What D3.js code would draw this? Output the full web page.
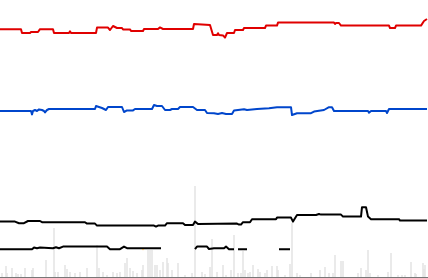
<!DOCTYPE html>
<html>
<head>
<meta charset="utf-8">
<script src="https://cdn.jsdelivr.net/npm/d3@7"></script>
<style>
  html, body { margin: 0; padding: 0; background: #fff; overflow: hidden; }
  #chart { width: 428px; height: 278px; }
</style>
</head>
<body>
<div id="chart"></div>
<script>
// [day, value] pairs; null breaks a line
const redSeries = [[0,124.4],[21,124.4],[22,122.5],[30,122.5],[31,123],[38,123],[40,124.4],[53,124.4],[54,122.5],[69,122.5],[70,123.3],[71,122.5],[96,122.5],[97,125.2],[108,125.2],[110,124],[113,126],[117,125],[122,125],[123,124.3],[130,124.3],[131,123.5],[143,123.5],[144,124.5],[158,124.5],[160,125.3],[163,124.5],[193,124.5],[194,127],[210,126.5],[213,121.5],[217,121.5],[218,122.4],[219,121.5],[223,121.3],[225,120.2],[227,122.5],[234,122.5],[235,124],[243,124],[244,125],[265,125],[266,126.2],[277,126.2],[278,127.7],[334,127.7],[335,127],[336,127.5],[339,127.5],[341,126.2],[389,126.2],[390,125],[395,125],[396,126.2],[421,126.2],[424,128.5],[427,129.5]];

const blueSeries = [[0,83.5],[31,83.5],[32,81.8],[33,83.5],[35,84],[37,83.5],[39,84.3],[42,84],[44,83.5],[45,82.8],[47,84],[49,84.5],[95,84.5],[96,86],[99,85.5],[102,85],[106,84],[108,85.5],[122,85.5],[124,83],[127,83.8],[133,83.8],[135,84.5],[152,84.5],[154,86.5],[157,86],[162,86],[165,84],[170,84],[172,84.5],[178,84.5],[180,85.5],[193,85.5],[197,84],[205,84],[207,82.5],[214,82.4],[218,82],[222,82.5],[226,82],[232,82],[234,83.7],[244,84.4],[247,84],[257,84.5],[269,84.9],[277,85.4],[291,85.4],[292,81.5],[297,82.4],[311,82.4],[314,83.2],[324,84],[329,85.4],[332,85.4],[334,83.5],[368,83.5],[369,82.7],[371,83.5],[386,83.5],[387,82.5],[389,84.5],[427,84.5]];

const blackSeries = [[0,28.2],[15,28.2],[19,27.4],[24,27.4],[28,28.5],[40,28.5],[42,27.9],[85,27.9],[87,27.2],[95,27.2],[97,26.2],[154,26.2],[156,25.7],[158,26.2],[165,26.2],[167,27.4],[183,27.4],[185,26.5],[193,26.5],[195,28.2],[198,27],[237,27.2],[239,26.7],[241,26.7],[243,27.9],[250,27.9],[252,29.4],[276,29.4],[277,30.2],[291,30.2],[293,28.2],[297,31.5],[316,31.5],[319,32],[321,31.7],[341,31.7],[343,30.7],[361,30.7],[362,35.4],[366,35.4],[368,30.7],[371,29.4],[399,29.4],[400,28.7],[427,28.7]];

const gapSeries = [[0,14.4],[32,14.4],[34,15.2],[37,14.9],[40,15.2],[53,14.9],[56,15.4],[59,14.9],[63,15.7],[107,15.7],[110,14.4],[120,14.4],[124,15.7],[127,14.9],[161,14.9],[162,null],
  [195,14.4],[197,15.7],[207,15.7],[209,14.5],[214,14.9],[224,14.9],[226,15.7],[229,14.4],[234,14.4],[235,null],
  [238,14.4],[247,14.4],[248,null],
  [279,14.4],[290,14.4]];

const markers = [[143,14.2]];

// volume bars [day, volume]
const volumes = [[2,40],[6,110],[7,40],[12,90],[16,40],[18,30],[21,30],[25,90],[32,70],[33,90],[46,170],[54,490],[55,50],[58,50],[65,120],[67,80],[70,50],[75,40],[80,50],[87,90],[97,320],[99,90],[103,50],[107,20],[113,50],[117,40],[120,50],[125,140],[127,190],[130,90],[133,60],[137,40],[142,70],[143,120],[148,270],[150,270],[152,270],[155,120],[157,120],[160,70],[163,150],[167,190],[168,140],[172,70],[178,140],[185,20],[192,40],[195,910],[202,50],[205,30],[210,100],[212,380],[217,50],[223,120],[226,20],[231,70],[234,420],[238,40],[241,40],[243,260],[245,70],[248,40],[250,50],[253,120],[258,80],[260,50],[265,40],[267,70],[272,110],[277,110],[278,70],[285,20],[290,130],[292,540],[297,40],[300,20],[311,40],[320,70],[325,100],[329,40],[333,40],[335,220],[341,160],[343,160],[358,40],[361,90],[366,70],[368,270],[370,40],[378,20],[388,50],[391,240],[398,20],[402,20],[405,20],[411,150],[415,40],[416,30],[423,140],[424,80],[425,120]];

const width = 428, height = 278;

const svg = d3.select('#chart')
    .append('svg')
    .attr('width', width)
    .attr('height', height)
    .attr('viewBox', `0 0 ${width} ${height}`);

const x = d3.scaleLinear().domain([0, 427]).range([0, 427]);
const y = d3.scaleLinear().domain([0, 139]).range([height, 0]);
const vol = d3.scaleLinear().domain([0, 1000]).range([277, 177]);

// volume bars
svg.append('g')
    .selectAll('rect')
    .data(volumes)
    .enter()
    .append('rect')
    .attr('x', d => x(d[0]) - 0.75)
    .attr('y', d => vol(d[1]))
    .attr('width', 1.5)
    .attr('height', d => vol(0) - vol(d[1]))
    .attr('fill', '#e4e4e4');

svg.append('line')
    .attr('x1', 0)
    .attr('x2', width)
    .attr('y1', 277.5)
    .attr('y2', 277.5)
    .attr('stroke', '#777')
    .attr('stroke-width', 1);

const line = d3.line()
    .defined(d => d[1] != null)
    .x(d => x(d[0]))
    .y(d => y(d[1]));

const series = [
    { data: redSeries, color: '#e00000' },
    { data: blueSeries, color: '#0046cc' },
    { data: blackSeries, color: '#000000' },
    { data: gapSeries, color: '#000000' }
];

svg.append('g')
    .selectAll('path')
    .data(series)
    .enter()
    .append('path')
    .attr('d', d => line(d.data))
    .attr('fill', 'none')
    .attr('stroke', d => d.color)
    .attr('stroke-width', 2)
    .attr('stroke-linejoin', 'round');

svg.append('g')
    .selectAll('rect')
    .data(markers)
    .enter()
    .append('rect')
    .attr('x', d => x(d[0]) - 0.5)
    .attr('y', d => y(d[1]) - 0.5)
    .attr('width', 1)
    .attr('height', 1)
    .attr('fill', '#f0a000');
</script>
</body>
</html>
